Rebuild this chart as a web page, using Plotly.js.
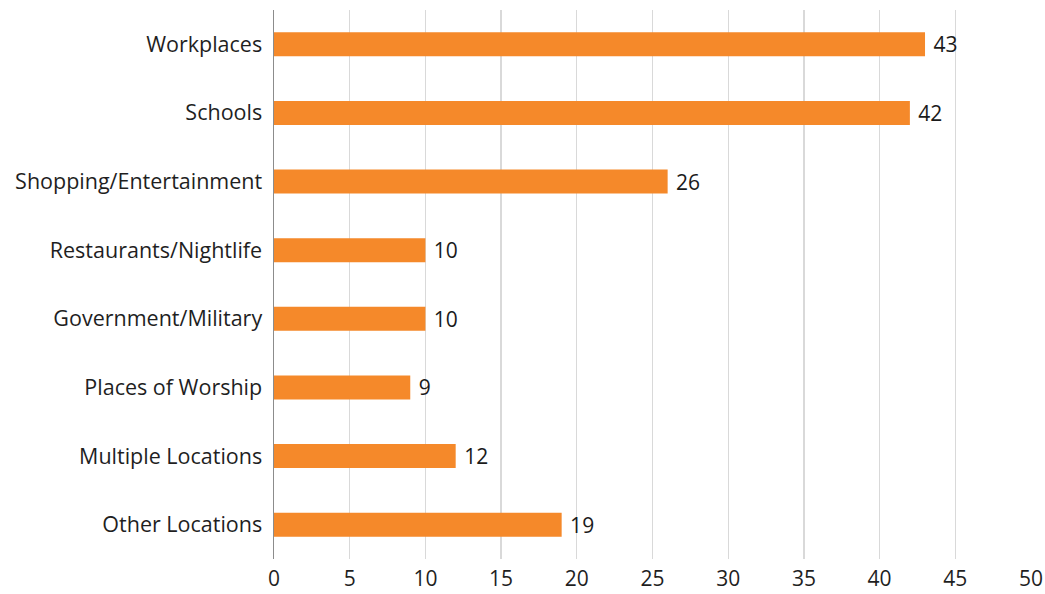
<!DOCTYPE html>
<html>
<head>
<meta charset="utf-8">
<script src="https://cdn.plot.ly/plotly-3.0.1.min.js"></script>
<style>html,body{margin:0;padding:0;background:#fff;}#chart{width:1045px;height:594px;}</style>
</head>
<body>
<div id="chart"></div>
<script>
const categories = ["Workplaces","Schools","Shopping/Entertainment","Restaurants/Nightlife","Government/Military","Places of Worship","Multiple Locations","Other Locations"];
const values = [43,42,26,10,10,9,12,19];
const xTickValues = [0,5,10,15,20,25,30,35,40,45,50];

const trace = {
  type: "bar",
  orientation: "h",
  y: categories,
  x: values,
  text: values.map(v => " " + v),
  textposition: "outside",
  constraintext: "none",
  cliponaxis: false,
  textfont: {family: "Open Sans, sans-serif", size: 21, color: "#1a1a1a"},
  marker: {color: "#F5892A"},
  width: 0.35,
  hoverinfo: "skip"
};

const layout = {
  width: 1045, height: 594,
  margin: {l: 274, r: 14, t: 10, b: 35},
  paper_bgcolor: "#fff", plot_bgcolor: "#fff",
  font: {family: "Open Sans, sans-serif", size: 21, color: "#1f1f1f"},
  showlegend: false,
  xaxis: {
    range: [0, 50], tickvals: xTickValues, ticktext: xTickValues.map(String),
    showgrid: true, gridcolor: "#d9d9d9", gridwidth: 1.3,
    zeroline: false, showline: false, ticks: "", ticklen: 0,
    ticklabelstandoff: 5,
    tickfont: {size: 21, color: "#1f1f1f"}, fixedrange: true
  },
  yaxis: {
    autorange: "reversed", type: "category",
    showline: true, linecolor: "#8c8c8c", linewidth: 1.5,
    showgrid: false, zeroline: false, ticks: "",
    ticklabelstandoff: 6,
    tickfont: {size: 21.5, color: "#1f1f1f"}, fixedrange: true
  }
};

Plotly.newPlot("chart", [trace], layout, {displayModeBar: false, staticPlot: true});
</script>
</body>
</html>
